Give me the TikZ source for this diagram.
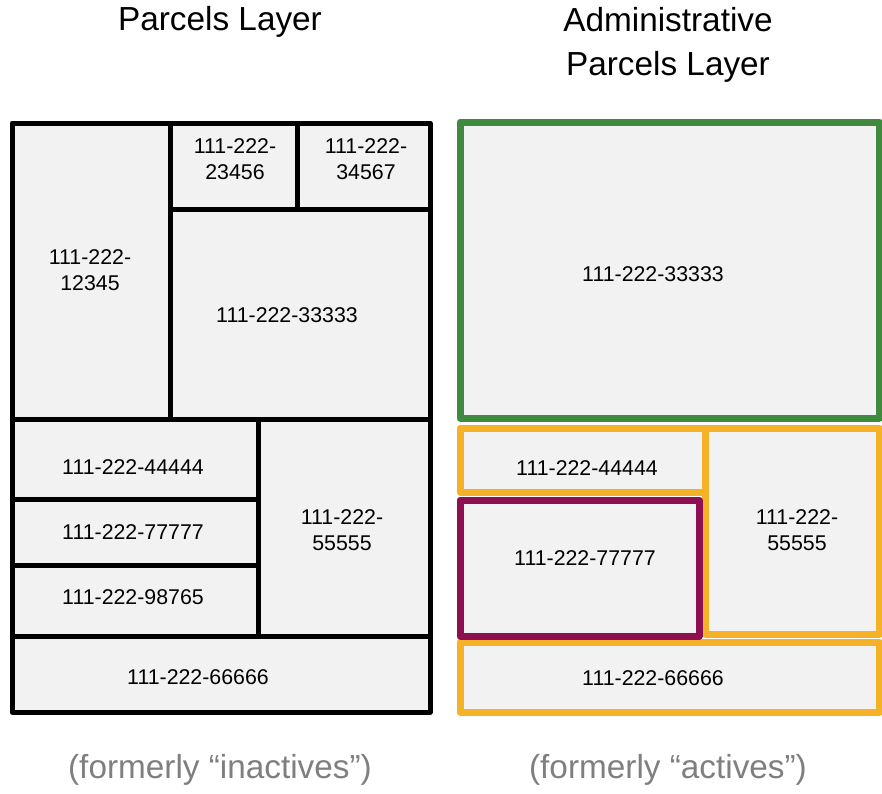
\documentclass[tikz,border=0pt]{standalone}
\usepackage{fontspec}
\setmainfont{Liberation Sans}
\usepackage{tikz}
\definecolor{cellgray}{HTML}{F2F2F2}
\definecolor{admgreen}{HTML}{3F8A3F}
\definecolor{admorange}{HTML}{F5B127}
\definecolor{admpurple}{HTML}{8E0F52}
\definecolor{notegray}{HTML}{7F7F7F}
\tikzset{
    parcel/.style={fill=cellgray, draw=black, line width=3.75pt, line join=round},
    admparcel/.style={fill=cellgray, draw=#1, line width=5.25pt, line join=round},
    pid/.style={font=\fontsize{16}{19.5}\selectfont, align=center, inner sep=0pt},
    layertitle/.style={font=\fontsize{25}{33}\selectfont, align=center, inner sep=0pt},
    layernote/.style={font=\fontsize{25}{30}\selectfont, text=notegray, inner sep=0pt}
}

\begin{document}
\begin{tikzpicture}[x=0.75pt, y=-0.75pt]
    \useasboundingbox (0,0) rectangle (882,793);
    % parcels layer
    \draw [parcel] (12,123) rectangle (170,419);
    \draw [parcel] (170,123) rectangle (297,209);
    \draw [parcel] (297,123) rectangle (430,209);
    \draw [parcel] (170,209) rectangle (430,419);
    \draw [parcel] (12,419) rectangle (258,499);
    \draw [parcel] (12,499) rectangle (258,565);
    \draw [parcel] (12,565) rectangle (258,636);
    \draw [parcel] (258,419) rectangle (430,636);
    \draw [parcel] (12,636) rectangle (430,712);
    \node [pid] (p12345) at (90,270)  {111-222-\\12345};
    \node [pid] (p23456) at (235,159) {111-222-\\23456};
    \node [pid] (p34567) at (366,159) {111-222-\\34567};
    \node [pid] (p33333) at (287,315) {111-222-33333};
    \node [pid] (p44444) at (133,467) {111-222-44444};
    \node [pid] (p77777) at (133,532) {111-222-77777};
    \node [pid] (p98765) at (133,597) {111-222-98765};
    \node [pid] (p55555) at (342,530) {111-222-\\55555};
    \node [pid] (p66666) at (198,677) {111-222-66666};
    % administrative parcels layer
    \draw [admparcel=admgreen]  (460,122) rectangle (879,418);
    \draw [admparcel=admorange] (460,428) rectangle (705,492);
    \draw [admparcel=admorange] (705,428) rectangle (879,634);
    \draw [admparcel=admorange] (460,642) rectangle (879,712);
    \draw [admparcel=admpurple] (460,500) rectangle (699,636);
    \node [pid] (a33333) at (653,274) {111-222-33333};
    \node [pid] (a44444) at (587,468) {111-222-44444};
    \node [pid] (a77777) at (585,558) {111-222-77777};
    \node [pid] (a55555) at (797,530) {111-222-\\55555};
    \node [pid] (a66666) at (653,678) {111-222-66666};
    % titles
    \node [layertitle] (t0) at (220,22) {Parcels Layer};
    \node [layertitle] (t1) at (668,45) {Administrative\\Parcels Layer};
    \node [layernote]  (n0) at (220,770) {(formerly “inactives”)};
    \node [layernote]  (n1) at (668,770) {(formerly “actives”)};
\end{tikzpicture}
\end{document}
